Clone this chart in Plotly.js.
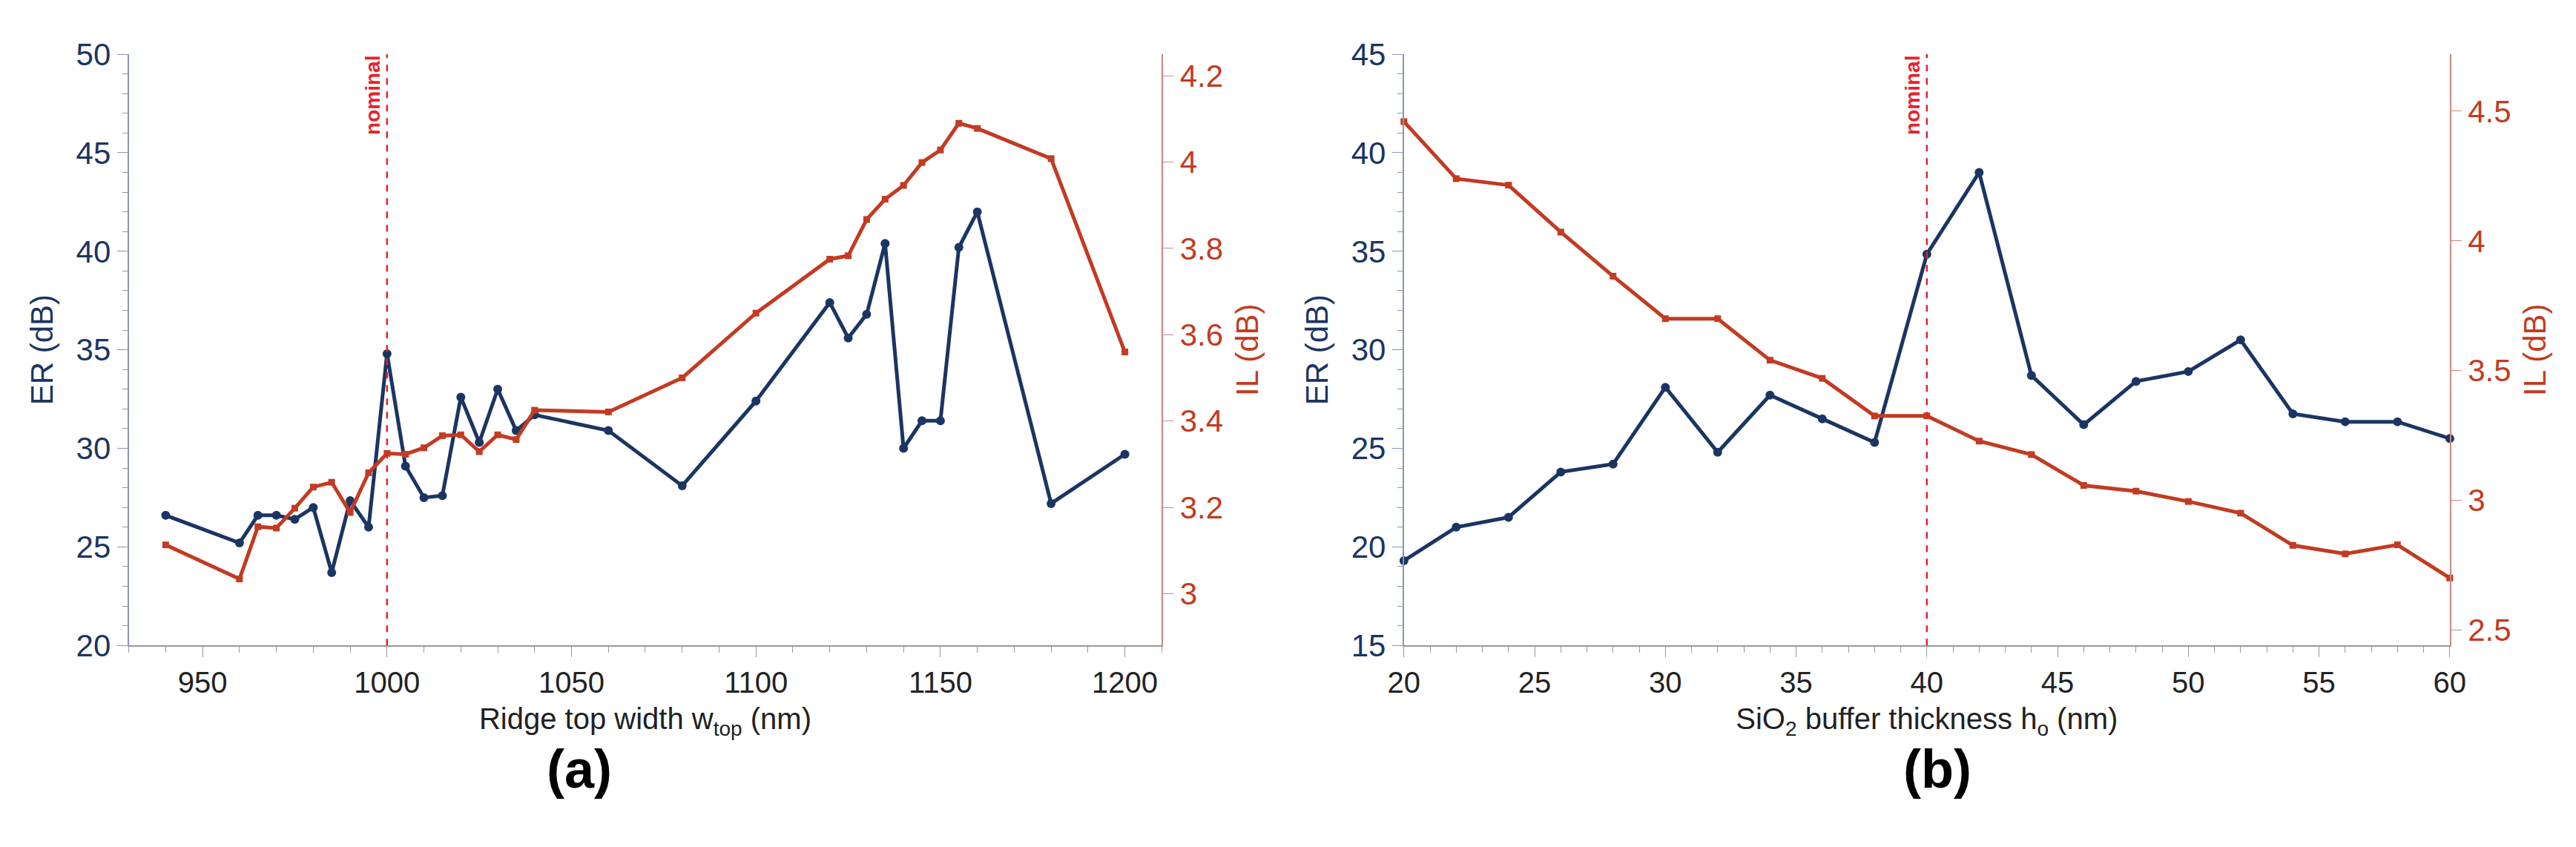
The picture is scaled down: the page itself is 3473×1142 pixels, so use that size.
<!DOCTYPE html>
<html>
<head>
<meta charset="utf-8">
<script src="https://cdn.plot.ly/plotly-3.0.1.min.js"></script>
<style>html,body{margin:0;padding:0;background:#fff}</style>
</head>
<body>
<div id="chart" style="width:3473px;height:1142px"></div>
<script>
// panel (a): ridge top width sweep
const widthNm = [940,960,965,970,975,980,985,990,995,1000,1005,1010,1015,1020,1025,1030,1035,1040,1060,1080,1100,1120,1125,1130,1135,1140,1145,1150,1155,1160,1180,1200];
const erA = [26.6,25.2,26.6,26.6,26.4,27.0,23.7,27.35,26.0,34.8,29.1,27.5,27.6,32.6,30.3,33.0,30.9,31.7,30.9,28.1,32.4,37.4,35.6,36.8,40.4,30.0,31.4,31.4,40.2,42.0,27.2,29.7];
const ilA = [3.113,3.034,3.155,3.152,3.198,3.247,3.258,3.188,3.28,3.325,3.323,3.338,3.366,3.368,3.329,3.368,3.357,3.425,3.421,3.50,3.65,3.775,3.783,3.867,3.914,3.946,3.999,4.028,4.09,4.078,4.008,3.56];

// panel (b): SiO2 buffer thickness sweep
const bufferNm = [20,22,24,26,28,30,32,34,36,38,40,42,44,46,48,50,52,54,56,58,60];
const erB = [19.3,21.0,21.5,23.8,24.2,28.1,24.8,27.7,26.5,25.3,34.85,39.0,28.7,26.2,28.4,28.9,30.5,26.75,26.35,26.35,25.5];
const ilB = [4.46,4.24,4.215,4.034,3.864,3.70,3.70,3.54,3.47,3.325,3.325,3.228,3.176,3.057,3.035,2.995,2.95,2.826,2.793,2.828,2.70];

const nominalA = 1000, nominalB = 40;

const NAVY = '#1b3563', RED = '#c23b22', NOM = '#e8212a';
const FONT = 'Liberation Sans Narrow, Liberation Sans, Arial, sans-serif';

function erTrace(x,y,xa,ya){return {x:x,y:y,xaxis:xa,yaxis:ya,type:'scatter',mode:'lines+markers',
  line:{color:NAVY,width:5},marker:{color:NAVY,size:12,symbol:'circle'},cliponaxis:false};}
function ilTrace(x,y,xa,ya){return {x:x,y:y,xaxis:xa,yaxis:ya,type:'scatter',mode:'lines+markers',
  line:{color:RED,width:5},marker:{color:RED,size:9,symbol:'square'},cliponaxis:false};}

const data = [
  erTrace(widthNm,erA,'x','y'), ilTrace(widthNm,ilA,'x','y2'),
  erTrace(bufferNm,erB,'x2','y3'), ilTrace(bufferNm,ilB,'x2','y4')
];

const tickF = {family:FONT,size:40,color:'#222'};
function xax(dom,range,dtick,minor,title,anchor){return {domain:dom,range:range,dtick:dtick,anchor:anchor,
  showgrid:false,zeroline:false,showline:true,linecolor:'#999',linewidth:2,ticks:'outside',ticklen:14,tickcolor:'#999',
  minor:{ticks:'outside',dtick:minor,ticklen:8,tickcolor:'#999'},tickfont:tickF,
  title:{text:title,font:{family:FONT,size:40,color:'#222'},standoff:14}};}
function yl(range,anchor){return {domain:[0.238,0.936],range:range,dtick:5,anchor:anchor,showgrid:false,zeroline:false,
  showline:true,linecolor:'#8896b0',linewidth:2,ticks:'outside',ticklen:14,tickcolor:'#8896b0',
  minor:{ticks:'outside',dtick:1,ticklen:7,tickcolor:'#8896b0'},tickfont:{family:FONT,size:42,color:NAVY},
  title:{text:'ER (dB)',font:{family:'Liberation Sans, Arial',size:42,color:NAVY},standoff:18}};}
function yr(range,dtick,anchor,ov){return {range:range,dtick:dtick,overlaying:ov,side:'right',anchor:anchor,showgrid:false,zeroline:false,
  showline:true,linecolor:'#c98a7e',linewidth:2,ticks:'outside',ticklen:14,tickcolor:'#c98a7e',
  tickfont:{family:FONT,size:42,color:RED},
  title:{text:'IL (dB)',font:{family:'Liberation Sans, Arial',size:42,color:RED},standoff:18}};}

const layout = {
  width:3473,height:1142,margin:{l:0,r:0,t:0,b:0},paper_bgcolor:'#fff',plot_bgcolor:'#fff',showlegend:false,
  xaxis: xax([0.050,0.451],[930,1210],50,10,'Ridge top width w<sub>top</sub> (nm)','y'),
  yaxis: yl([20,50],'x'),
  yaxis2: yr([2.88,4.25],0.2,'x','y'),
  xaxis2: xax([0.545,0.951],[20,60],5,1,'SiO<sub>2</sub> buffer thickness h<sub>o</sub> (nm)','y3'),
  yaxis3: yl([15,45],'x2'),
  yaxis4: yr([2.44,4.72],0.5,'x2','y3'),
  shapes:[
    {type:'line',xref:'x',yref:'y domain',x0:nominalA,x1:nominalA,y0:0,y1:1,line:{color:NOM,width:2.5,dash:'dash'}},
    {type:'line',xref:'x2',yref:'y3 domain',x0:nominalB,x1:nominalB,y0:0,y1:1,line:{color:NOM,width:2.5,dash:'dash'}}
  ],
  annotations:[
    {xref:'x',yref:'y domain',x:nominalA,y:1,xanchor:'right',yanchor:'top',xshift:-2,textangle:-90,showarrow:false,
     text:'<b>nominal</b>',font:{family:'Liberation Sans, Arial',size:28,color:NOM}},
    {xref:'x2',yref:'y3 domain',x:nominalB,y:1,xanchor:'right',yanchor:'top',xshift:-2,textangle:-90,showarrow:false,
     text:'<b>nominal</b>',font:{family:'Liberation Sans, Arial',size:28,color:NOM}},
    {xref:'paper',yref:'paper',x:0.225,y:0.055,xanchor:'center',yanchor:'bottom',showarrow:false,
     text:'<b>(a)</b>',font:{family:'Liberation Sans, Arial',size:72,color:'#000'}},
    {xref:'paper',yref:'paper',x:0.752,y:0.055,xanchor:'center',yanchor:'bottom',showarrow:false,
     text:'<b>(b)</b>',font:{family:'Liberation Sans, Arial',size:72,color:'#000'}}
  ]
};

Plotly.newPlot('chart',data,layout,{staticPlot:true});
</script>
</body>
</html>
